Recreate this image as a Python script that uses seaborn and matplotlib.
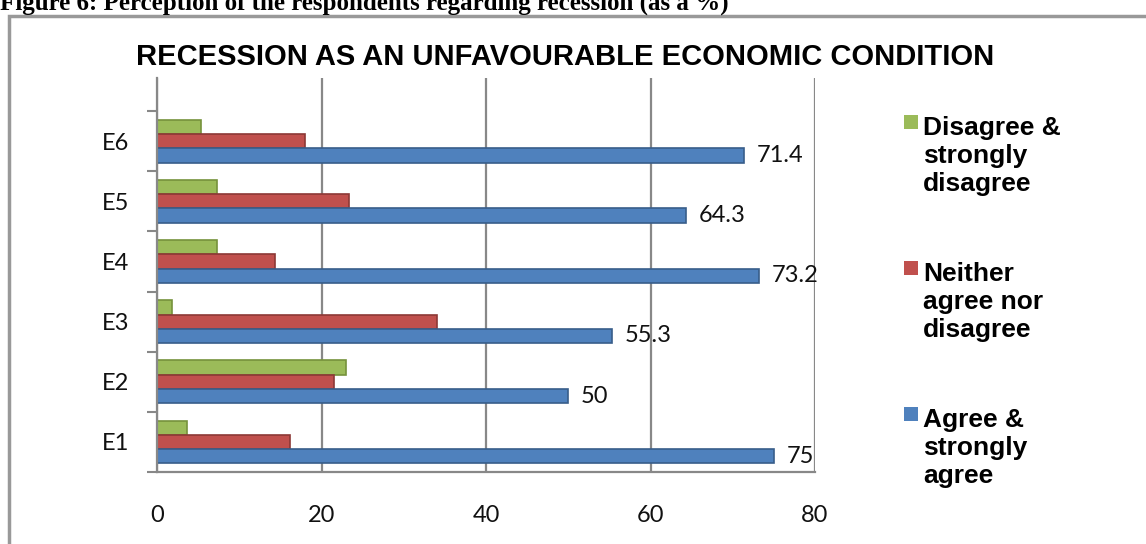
import matplotlib
matplotlib.use("Agg")
import matplotlib.pyplot as plt
import seaborn as sns
import pandas as pd
from matplotlib.patches import Rectangle
from matplotlib.ticker import FixedLocator

categories = ["E6", "E5", "E4", "E3", "E2", "E1"]
series = ["Disagree &\nstrongly\ndisagree", "Neither\nagree nor\ndisagree", "Agree &\nstrongly\nagree"]
disagree = [5.4, 7.3, 7.3, 1.8, 23.0, 3.7]
neither = [18.0, 23.3, 14.4, 34.0, 21.5, 16.2]
agree = [71.4, 64.3, 73.2, 55.3, 50, 75]
agree_labels = ["71.4", "64.3", "73.2", "55.3", "50", "75"]
xticks = [0, 20, 40, 60, 80]
colors = ["#9BBB59", "#C0504D", "#4F81BD"]
edges = ["#76923C", "#8C3836", "#385D8A"]

rows = []
for s, vals in zip(series, [disagree, neither, agree]):
    for c, v in zip(categories, vals):
        rows.append({"cat": c, "series": s, "value": v})
df = pd.DataFrame(rows)

sns.set_theme(style="white")
plt.rcParams["font.family"] = ["Lato", "DejaVu Sans"]

W, H = 1146, 544
fig = plt.figure(figsize=(W / 100, H / 100), dpi=100)
ax = fig.add_axes([157 / W, 1 - 472 / H, (815 - 157) / W, (472 - 78) / H])

sns.barplot(data=df, y="cat", x="value", hue="series", order=categories,
            hue_order=series, palette=colors, orient="h", width=0.71,
            ax=ax, legend=False, saturation=1)

for cont, ec in zip(ax.containers, edges):
    for bar in cont:
        bar.set_edgecolor(ec)
        bar.set_linewidth(1.2)

ax.bar_label(ax.containers[2], labels=agree_labels, padding=9, fontsize=17, color="#111111")

ax.set_xlim(0, 80)
ax.set_xticks(xticks)
ax.set_xticklabels([str(t) for t in xticks], fontsize=17, color="#111111")
ax.tick_params(axis="x", which="major", length=0, pad=24)
ax.tick_params(axis="y", which="major", length=0, pad=20, labelsize=17, labelcolor="#111111")
ax.yaxis.set_minor_locator(FixedLocator([i - 0.5 for i in range(len(categories) + 1)]))
ax.tick_params(axis="y", which="minor", length=7, color="#888888", width=1.5, left=True)
ax.set_xlabel("")
ax.set_ylabel("")
ax.grid(axis="x", color="#888888", linewidth=1.6)
ax.set_axisbelow(True)
for sp in ["top", "right"]:
    ax.spines[sp].set_visible(False)
ax.spines["left"].set_color("#888888")
ax.spines["left"].set_linewidth(1.6)
ax.spines["bottom"].set_color("#888888")
ax.spines["bottom"].set_linewidth(1.6)
ax.set_ylim(len(categories) - 0.5, -1.05)

fig.text(565 / W, 1 - 57 / H, "RECESSION AS AN UNFAVOURABLE ECONOMIC CONDITION",
         ha="center", va="center", fontsize=21, fontweight="bold", color="black",
         family=["Liberation Sans", "DejaVu Sans"])

# legend (entries aligned on their first line, as in the reference)
leg_y = [122, 268, 414]
line_step = 30
for lab, col, yc in zip(series, colors, leg_y):
    fig.patches.append(Rectangle((904 / W, 1 - (yc + 7) / H), 14 / W, 14 / H,
                                 transform=fig.transFigure, facecolor=col, edgecolor="none"))
    nlines = lab.count("\n")
    fig.text(923 / W, 1 - (yc + 9 + nlines * line_step) / H, lab, ha="left", va="baseline",
             fontsize=19, fontweight="bold", color="black", linespacing=1.2,
             family=["Liberation Sans", "DejaVu Sans"])

fig.patches.append(Rectangle((9 / W, -0.1), 1.2, 1 - 16 / H + 0.1, transform=fig.transFigure,
                             fill=False, edgecolor="#999999", linewidth=2.5))

fig.text(0.0, 1 - 10 / H, "Figure 6: Perception of the respondents regarding recession (as a %)",
         ha="left", va="baseline", fontsize=18, fontweight="bold", color="black",
         family=["Liberation Serif", "DejaVu Serif"])

fig.savefig("out.png", dpi=100)
